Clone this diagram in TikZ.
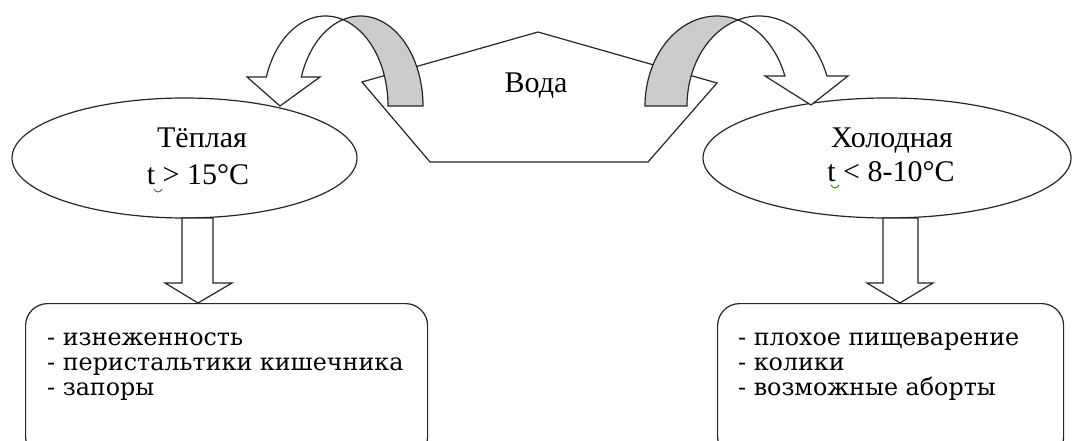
\documentclass[tikz,border=0pt]{standalone}
\usepackage{fontspec}
\setmainfont{Liberation Serif}
\newfontfamily\listfont{DejaVu Serif}
\usetikzlibrary{shapes.geometric,calc}
\begin{document}
\begin{tikzpicture}[x=1pt,y=-1pt,
  outline/.style={draw=black!85, line width=1.2pt, line join=miter},
  bigtext/.style={font=\fontsize{30}{36}\selectfont, inner sep=0pt, anchor=base},
  listtext/.style={font=\listfont\fontsize{23.8}{25}\selectfont, inner sep=0pt, anchor=base west},
  oval/.style={outline, fill=white, ellipse, inner sep=0pt},
  listbox/.style={outline, fill=white, rectangle, rounded corners=22pt, inner sep=0pt, anchor=north west},
  squiggle/.style={draw=green!55!black, line width=0.8pt},
]
\useasboundingbox (0,0) rectangle (1073,441);
\clip (0,0) rectangle (1073,441);

% pentagon "Вода"
\coordinate (p1) at (362,82);
\coordinate (p2) at (538,32);
\coordinate (p3) at (717,83);
\coordinate (p4) at (648,162);
\coordinate (p5) at (430,162);
\filldraw[outline, fill=white] (p1) -- (p2) -- (p3) -- (p4) -- (p5) -- cycle;
\node[bigtext] (water) at (536,93) {Вода};

% ellipses
\node[oval, minimum width=345pt, minimum height=120pt] (warm) at (184.5,158) {};
\node[oval, minimum width=368pt, minimum height=120pt] (cold) at (887,158) {};
\node[bigtext] (warmname) at (202,147) {Тёплая};
\node[bigtext] (warmtemp) at (198,184) {t > 15°C};
\node[bigtext] (coldname) at (892,147) {Холодная};
\node[bigtext] (coldtemp) at (891,181) {t < 8-10°C};
\draw[squiggle] (154,189) .. controls (156,193) and (160,193) .. (162,189);
\draw[squiggle] (831,185) .. controls (833,189) and (837,189) .. (839,185);

% curved arrow, left
\filldraw[outline, fill=black!20]
  ([shift={(360.5,106)}]106.26:62.5pt and 90pt)
  arc[start angle=106.26, end angle=0, x radius=62.5pt, y radius=90pt]
  -- ([shift={(325.5,106)}]0:62.5pt and 90pt)
  arc[start angle=0, end angle=73.74, x radius=62.5pt, y radius=90pt] -- cycle;
\filldraw[outline, fill=white]
  ([shift={(325.5,106)}]161.2:62.5pt and 90pt) -- (247,77) -- (280,106) -- (320,77)
  -- ([shift={(360.5,106)}]161.2:62.5pt and 90pt)
  arc[start angle=161.2, end angle=106.26, x radius=62.5pt, y radius=90pt]
  arc[start angle=73.74, end angle=161.2, x radius=62.5pt, y radius=90pt] -- cycle;

% curved arrow, right
\filldraw[outline, fill=black!20]
  ([shift={(717,106)}]73.04:72pt and 90pt)
  arc[start angle=73.04, end angle=180, x radius=72pt, y radius=90pt]
  -- ([shift={(759,106)}]180:72pt and 90pt)
  arc[start angle=180, end angle=106.96, x radius=72pt, y radius=90pt] -- cycle;
\filldraw[outline, fill=white]
  ([shift={(759,106)}]19.47:72pt and 90pt) -- (848,76) -- (811,105) -- (765,76)
  -- ([shift={(717,106)}]19.47:72pt and 90pt)
  arc[start angle=19.47, end angle=73.04, x radius=72pt, y radius=90pt]
  arc[start angle=106.96, end angle=19.47, x radius=72pt, y radius=90pt] -- cycle;

% result boxes
\node[listbox, minimum width=402pt, minimum height=155pt] (warmfx) at (25,303) {};
\node[listbox, minimum width=346pt, minimum height=155pt] (coldfx) at (717,303) {};
\node[listtext] (w1) at (47,345) {- изнеженность};
\node[listtext] (w2) at (47,370) {- перистальтики кишечника};
\node[listtext] (w3) at (47,395) {- запоры};
\node[listtext] (c1) at (738,345) {- плохое пищеварение};
\node[listtext] (c2) at (738,370) {- колики};
\node[listtext] (c3) at (738,395) {- возможные аборты};

% block arrows from ellipses to boxes
\filldraw[outline, fill=white] (182,218) -- (182,283) -- (165,283) -- (198,303) -- (232,283) -- (213,283) -- (213,218) -- cycle;
\filldraw[outline, fill=white] (883,218) -- (883,283) -- (867,283) -- (900,303) -- (933,283) -- (918,283) -- (918,218) -- cycle;
\end{tikzpicture}
\end{document}
